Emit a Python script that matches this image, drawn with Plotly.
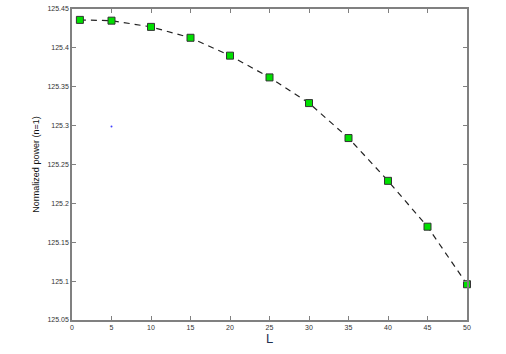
import plotly.graph_objects as go

L_vals = [1, 5, 10, 15, 20, 25, 30, 35, 40, 45, 50]
power = [125.436, 125.435, 125.427, 125.413, 125.390, 125.362, 125.329, 125.284, 125.229, 125.170, 125.096]
stray_x = [5]
stray_y = [125.299]
x_ticks = [0, 5, 10, 15, 20, 25, 30, 35, 40, 45, 50]
y_ticks = [125.05, 125.1, 125.15, 125.2, 125.25, 125.3, 125.35, 125.4, 125.45]

fig = go.Figure()
fig.add_trace(go.Scatter(
    x=L_vals, y=power, mode="lines+markers",
    line=dict(color="#222222", width=1.2, dash="6px,5px"),
    marker=dict(symbol="square", size=7, color="#00e000",
                line=dict(color="#333333", width=1)),
    showlegend=False, cliponaxis=False))
fig.add_trace(go.Scatter(
    x=stray_x, y=stray_y, mode="markers",
    marker=dict(size=2, color="#4040ff"), showlegend=False))

axis_common = dict(
    showline=True, linecolor="#808080", linewidth=1.5, mirror="ticks",
    ticks="inside", ticklen=4, tickcolor="#808080", tickwidth=1,
    showgrid=False, zeroline=False, automargin=False,
    tickfont=dict(family="Liberation Sans, Arial", size=7, color="#333333"),
)

fig.update_layout(
    width=506, height=354,
    margin=dict(l=72, r=39, t=9, b=34),
    paper_bgcolor="white", plot_bgcolor="white",
    xaxis=dict(range=[0, 50], tickvals=x_ticks,
               ticktext=[str(v) for v in x_ticks],
               title=dict(text="L", standoff=4,
                          font=dict(family="Liberation Sans, Arial", size=13, color="#1f3050")),
               **axis_common),
    yaxis=dict(range=[125.05, 125.45], tickvals=y_ticks,
               ticktext=[f"{v:g}" for v in y_ticks],
               title=dict(text="Normalized power (n=1)", standoff=6,
                          font=dict(family="Liberation Sans, Arial", size=9, color="#111111")),
               **axis_common),
)

fig.write_html("out.html")
